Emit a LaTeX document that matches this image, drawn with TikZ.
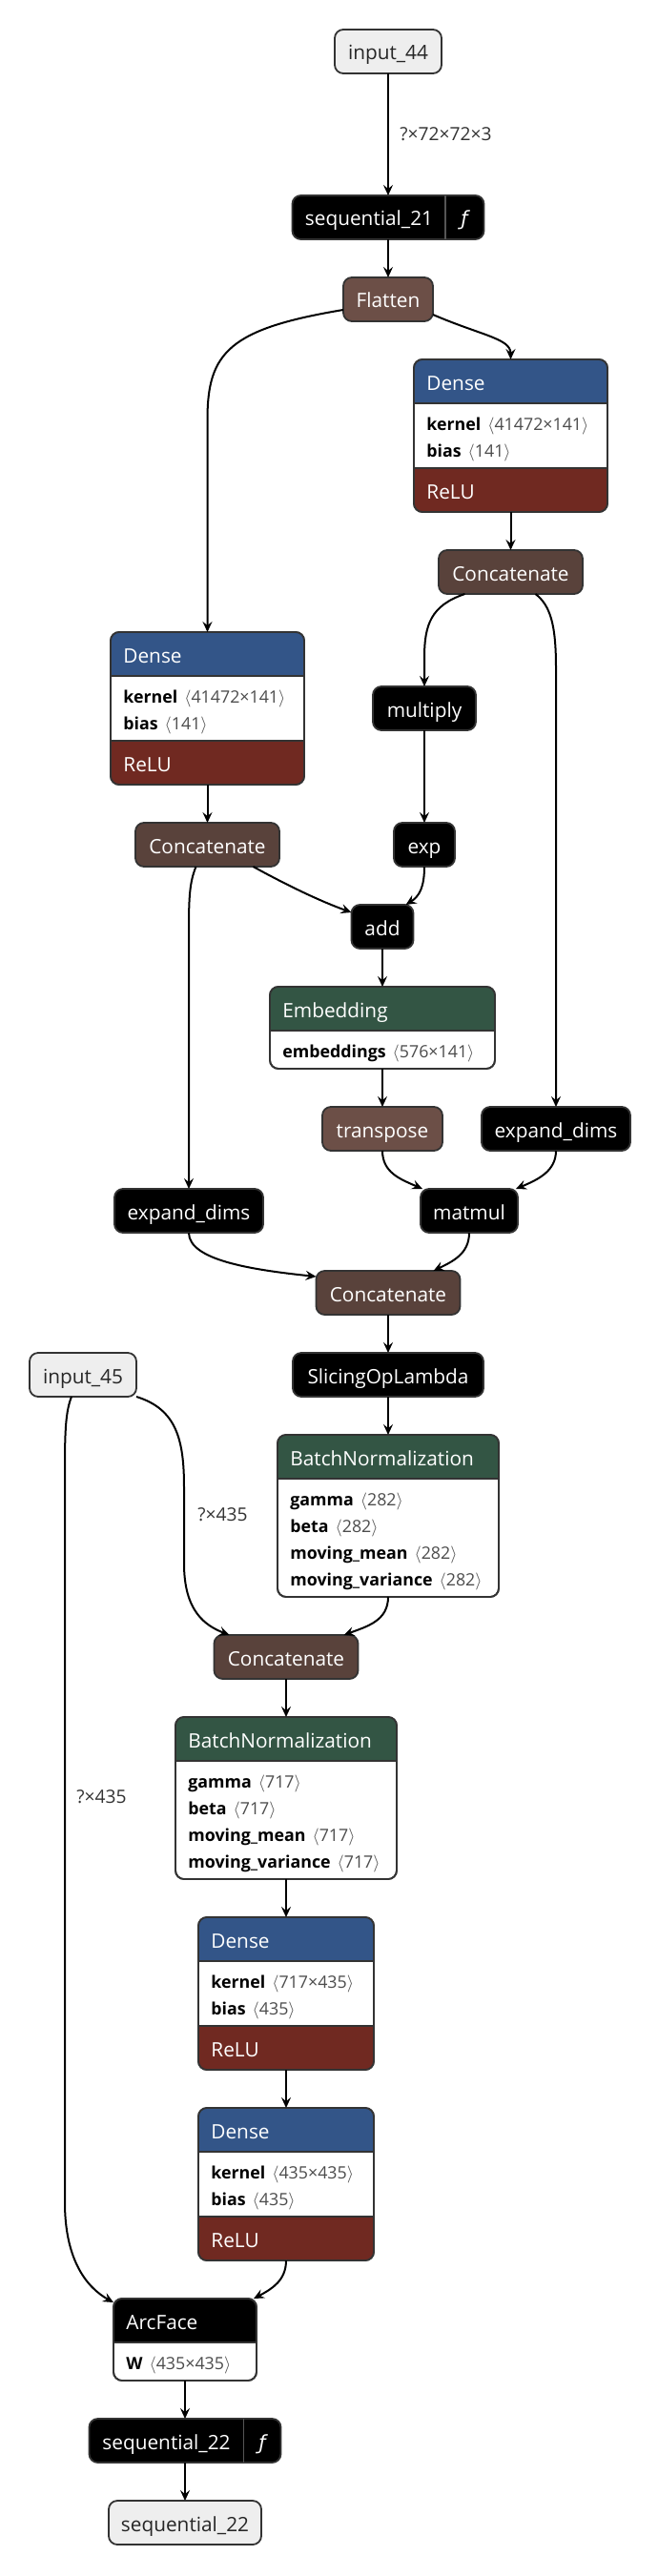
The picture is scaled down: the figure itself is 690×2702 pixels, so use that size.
\documentclass[tikz,border=0pt]{standalone}
\usepackage{fontspec}
\setmainfont{Open Sans}
\newfontfamily\dejavu{DejaVu Sans}
\usetikzlibrary{arrows.meta}
\definecolor{bord}{HTML}{333333}
\definecolor{inpfill}{HTML}{EEEEEE}
\definecolor{shapecol}{HTML}{6C4F47}
\definecolor{tenscol}{HTML}{59423B}
\definecolor{layercol}{HTML}{335588}
\definecolor{relucol}{HTML}{702921}
\definecolor{normcol}{HTML}{335544}
\definecolor{divcol}{HTML}{555555}
\newcommand\ttlfont{\fontsize{10.4pt}{12pt}\selectfont}
\newcommand\attfont{\fontsize{8.9pt}{10pt}\selectfont}
\newcommand\lblfont{\fontsize{9.6pt}{11pt}\selectfont}
\newcommand\attr[2]{\textbf{#1}\hspace{3.5pt}{\color{black!70}\ensuremath{\langle}#2\ensuremath{\rangle}}}
\newcommand\cmpbox[7]{%
  \node[cmpouter, minimum width={(#4-#2)*0.5pt}, minimum height={(#5-#3)*0.5pt}] (#1) at ({(#2+#4)/2},{(#3+#5)/2}) {};
  \begin{scope}
    \clip[rounded corners=4.5pt] (#1.south west) rectangle (#1.north east);
    \fill[#7] (#2,#3) rectangle (#4,#6);
  \end{scope}
  \draw[sepline] (#2,#6) -- (#4,#6);
}
\newcommand\relupart[5]{%
  \begin{scope}
    \clip[rounded corners=4.5pt] (#1.south west) rectangle (#1.north east);
    \fill[relucol] (#2,#3) rectangle (#4,#5);
  \end{scope}
  \draw[sepline] (#2,#3) -- (#4,#3);
}
\newcommand\rebord[1]{\draw[bordline] (#1.south west) rectangle (#1.north east);}
\begin{document}
\begin{tikzpicture}[x=0.5pt,y=-0.5pt,
  nbase/.style={rectangle, rounded corners=4.5pt, draw=bord, line width=0.9pt, inner sep=0pt, outer sep=0pt, minimum height=23pt, font=\ttlfont, text height=9pt, text depth=0pt},
  inp/.style={nbase, fill=inpfill, text=black!85},
  blk/.style={nbase, fill=black, text=white},
  shp/.style={nbase, fill=shapecol, text=white},
  tns/.style={nbase, fill=tenscol, text=white},
  cmpouter/.style={rectangle, rounded corners=4.5pt, draw=bord, line width=0.9pt, fill=white, inner sep=0pt, outer sep=0pt},
  sepline/.style={draw=bord, line width=0.9pt},
  bordline/.style={draw=bord, line width=0.9pt, rounded corners=4.5pt},
  divline/.style={draw=divcol, line width=0.9pt},
  htxt/.style={anchor=west, inner sep=0pt, font=\ttlfont, text=white, text height=9pt, text depth=0pt},
  wtxt/.style={anchor=center, inner sep=0pt, font=\ttlfont, text=white, text height=9pt, text depth=0pt},
  atxt/.style={anchor=west, inner sep=0pt, font=\attfont, text=black, text height=6.5pt, text depth=0pt},
  lbl/.style={anchor=west, inner sep=0pt, font=\lblfont, text=black!80, text height=6.5pt, text depth=0pt},
  conn/.style={draw=black, line width=1pt, -{Stealth[length=5.5pt,width=5pt,inset=2pt]}},
]
\path[fill=white, use as bounding box] (0,0) rectangle (690,2702);

% ---- simple nodes ----
\node[inp, minimum width=56pt] (in44) at (407,54) {input\_44};
\node[blk, minimum width=100.5pt] (seq21) at (407,228) {};
\draw[divline] (467,205) -- (467,251);
\node[wtxt] (seq21t) at (387,228) {sequential\_21};
\node[wtxt] (seq21f) at (487,228) {\dejavu\itshape ƒ};
\node[shp, minimum width=47pt] (flat) at (407,314) {Flatten};
\node[tns, minimum width=75.5pt] (cr) at (535.5,600) {Concatenate};
\node[blk, minimum width=54pt] (mul) at (445,743) {multiply};
\node[tns, minimum width=75.5pt] (cl) at (217.5,886) {Concatenate};
\node[blk, minimum width=32pt] (exp) at (445,886) {exp};
\node[blk, minimum width=32.5pt] (add) at (401,972) {add};
\node[shp, minimum width=63pt] (tr) at (401,1184) {transpose};
\node[blk, minimum width=78pt] (er) at (583,1184) {expand\_dims};
\node[blk, minimum width=78pt] (el) at (198,1270) {expand\_dims};
\node[blk, minimum width=51pt] (mm) at (492,1270) {matmul};
\node[tns, minimum width=75.5pt] (cm) at (407,1356) {Concatenate};
\node[blk, minimum width=100pt] (slc) at (407,1442) {SlicingOpLambda};
\node[inp, minimum width=56pt] (in45) at (87,1442) {input\_45};
\node[tns, minimum width=75.5pt] (cb) at (300,1738) {Concatenate};
\node[blk, minimum width=100.5pt] (seq22) at (194,2560) {};
\draw[divline] (255.5,2537) -- (255.5,2583);
\node[wtxt] (seq22t) at (174.5,2560) {sequential\_22};
\node[wtxt] (seq22f) at (275,2560) {\dejavu\itshape ƒ};
\node[inp, minimum width=80pt] (out) at (194,2646) {sequential\_22};

% ---- Dense right ----
\cmpbox{dr}{434}{377}{637}{537}{423}{layercol}
\relupart{dr}{434}{491}{637}{537}
\rebord{dr}
\node[htxt] (dr-t) at (447,400) {Dense};
\node[atxt] (dr-k) at (447,445) {\attr{kernel}{41472×141}};
\node[atxt] (dr-b) at (447,473) {\attr{bias}{141}};
\node[htxt] (dr-r) at (447,514) {ReLU};

% ---- Dense left ----
\cmpbox{dl}{116}{663}{319}{823}{709}{layercol}
\relupart{dl}{116}{777}{319}{823}
\rebord{dl}
\node[htxt] (dl-t) at (129,686) {Dense};
\node[atxt] (dl-k) at (129,731) {\attr{kernel}{41472×141}};
\node[atxt] (dl-b) at (129,759) {\attr{bias}{141}};
\node[htxt] (dl-r) at (129,800) {ReLU};

% ---- Embedding ----
\cmpbox{emb}{283}{1035}{519}{1121}{1081}{normcol}
\rebord{emb}
\node[htxt] (emb-t) at (296,1058) {Embedding};
\node[atxt] (emb-e) at (296,1103) {\attr{embeddings}{576×141}};

% ---- BatchNormalization 1 ----
\cmpbox{bn1}{291}{1505}{523}{1675}{1551}{normcol}
\rebord{bn1}
\node[htxt] (bn1-t) at (304,1528) {BatchNormalization};
\node[atxt] (bn1-g) at (304,1573) {\attr{gamma}{282}};
\node[atxt] (bn1-b) at (304,1601) {\attr{beta}{282}};
\node[atxt] (bn1-m) at (304,1629) {\attr{moving\_mean}{282}};
\node[atxt] (bn1-v) at (304,1657) {\attr{moving\_variance}{282}};

% ---- BatchNormalization 2 ----
\cmpbox{bn2}{184}{1801}{416}{1971}{1847}{normcol}
\rebord{bn2}
\node[htxt] (bn2-t) at (197,1824) {BatchNormalization};
\node[atxt] (bn2-g) at (197,1869) {\attr{gamma}{717}};
\node[atxt] (bn2-b) at (197,1897) {\attr{beta}{717}};
\node[atxt] (bn2-m) at (197,1925) {\attr{moving\_mean}{717}};
\node[atxt] (bn2-v) at (197,1953) {\attr{moving\_variance}{717}};

% ---- Dense 3 ----
\cmpbox{d3}{208}{2011}{392}{2171}{2057}{layercol}
\relupart{d3}{208}{2125}{392}{2171}
\rebord{d3}
\node[htxt] (d3-t) at (221,2034) {Dense};
\node[atxt] (d3-k) at (221,2079) {\attr{kernel}{717×435}};
\node[atxt] (d3-b) at (221,2107) {\attr{bias}{435}};
\node[htxt] (d3-r) at (221,2148) {ReLU};

% ---- Dense 4 ----
\cmpbox{d4}{208}{2211}{392}{2371}{2257}{layercol}
\relupart{d4}{208}{2325}{392}{2371}
\rebord{d4}
\node[htxt] (d4-t) at (221,2234) {Dense};
\node[atxt] (d4-k) at (221,2279) {\attr{kernel}{435×435}};
\node[atxt] (d4-b) at (221,2307) {\attr{bias}{435}};
\node[htxt] (d4-r) at (221,2348) {ReLU};

% ---- ArcFace ----
\cmpbox{af}{119}{2411}{269}{2497}{2457}{black}
\rebord{af}
\node[htxt] (af-t) at (132,2434) {ArcFace};
\node[atxt] (af-w) at (132,2479) {\attr{W}{435×435}};

% ---- connectors ----
\draw[conn] (in44) -- (seq21);
\node[lbl] (lab1) at (419,141) {?×72×72×3};
\draw[conn] (seq21) -- (flat);
\draw[conn] ([yshift=6pt]flat.south west) .. controls (240,345) and (217.5,370) .. (217.5,440) -- (dl.north);
\draw[conn] ([yshift=-8pt]flat.east) .. controls (505,352) and (535.5,355) .. (dr.north);
\draw[conn] (dr) -- (cr);
\draw[conn] ([xshift=-24pt]cr.south) .. controls (452,635) and (445,655) .. (445,690) -- (mul.north);
\draw[conn] ([xshift=13pt]cr.south) .. controls (577,635) and (583,655) .. (583,700) -- (er.north);
\draw[conn] (dl) -- (cl);
\draw[conn] (mul) -- (exp);
\draw[conn] ([xshift=24pt]cl.south) .. controls (300,928) and (335,945) .. ([yshift=-4pt]add.north west);
\draw[conn] (exp.south) .. controls (445,930) and (440,940) .. ([xshift=-4pt]add.north east);
\draw[conn] ([xshift=-6pt]cl.south) .. controls (199,925) and (198,940) .. (198,975) -- (el.north);
\draw[conn] (add) -- (emb);
\draw[conn] (emb) -- (tr);
\draw[conn] (tr.south) .. controls (401,1230) and (420,1237) .. ([xshift=1pt]mm.north west);
\draw[conn] (er.south) .. controls (583,1228) and (565,1237) .. ([xshift=-1pt]mm.north east);
\draw[conn] (el.south) .. controls (198,1322) and (265,1332) .. ([yshift=-3pt]cm.north west);
\draw[conn] (mm.south) .. controls (492,1315) and (475,1323) .. ([xshift=-14pt]cm.north east);
\draw[conn] (cm) -- (slc);
\draw[conn] (slc) -- (bn1);
\draw[conn] (in45.south east) .. controls (185,1478) and (193,1510) .. (193,1560) -- (193,1640) .. controls (193,1690) and (215,1705) .. ([xshift=8pt]cb.north west);
\node[lbl] (lab2) at (207,1589) {?×435};
\draw[conn] (bn1.south) .. controls (407,1700) and (385,1706) .. ([xshift=-7.5pt]cb.north east);
\draw[conn] ([xshift=-6pt]in45.south) .. controls (69,1480) and (68,1500) .. (68,1540) -- (68,2310) .. controls (68,2372) and (92,2400) .. ([yshift=-2pt]af.north west);
\node[lbl] (lab3) at (80,1885) {?×435};
\draw[conn] (cb) -- (bn2);
\draw[conn] (bn2) -- (d3);
\draw[conn] (d3) -- (d4);
\draw[conn] (d4.south) .. controls (300,2392) and (285,2401) .. ([xshift=-1.5pt]af.north east);
\draw[conn] (af) -- (seq22);
\draw[conn] (seq22) -- (out);
\end{tikzpicture}
\end{document}
